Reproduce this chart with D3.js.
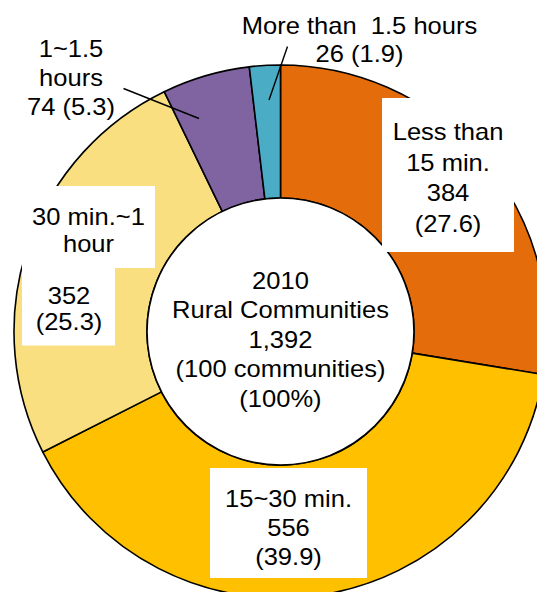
<!DOCTYPE html>
<html>
<head>
<meta charset="utf-8">
<script src="https://cdn.jsdelivr.net/npm/d3@7"></script>
<style>
  html, body { margin: 0; padding: 0; background: #ffffff; }
  svg { display: block; }
  text { font-family: "Liberation Sans", Arial, sans-serif; fill: #000; white-space: pre; }
</style>
</head>
<body>
<svg id="chart" width="537" height="592"></svg>
<script>
// ---- data ----
const categories = ["Less than 15 min.", "15~30 min.", "30 min.~1 hour", "1~1.5 hours", "More than 1.5 hours"];
const counts = [384, 556, 352, 74, 26];
const shares = [27.6, 39.9, 25.3, 5.3, 1.9];
const colors = ["#E46C0A", "#FFC000", "#F9DF80", "#8064A2", "#4BACC6"];
const centerLines = ["2010", "Rural Communities", "1,392", "(100 communities)", "(100%)"];

// ---- layout ----
const W = 537, H = 592;
const cx = 280.5, cy = 331.5, rOuter = 266.5, rInner = 133.5;
const fontSize = 23, sx = 1.11;

const svg = d3.select("#chart");
svg.append("rect").attr("width", W).attr("height", H).attr("fill", "#fff");

const pie = d3.pie().sort(null).value(d => d).startAngle(0).endAngle(2 * Math.PI);
const arcs = pie(counts);
const arcGen = d3.arc().innerRadius(rInner).outerRadius(rOuter);

const g = svg.append("g").attr("transform", `translate(${cx},${cy})`);
g.selectAll("path.slice")
  .data(arcs)
  .join("path")
  .attr("class", "slice")
  .attr("d", arcGen)
  .attr("fill", (d, i) => colors[i])
  .attr("stroke", "#000")
  .attr("stroke-width", 1.6)
  .attr("stroke-linejoin", "round");

g.append("circle").attr("r", rInner).attr("fill", "#fff").attr("stroke", "#000").attr("stroke-width", 1.6);

// label texts built from the data arrays
const fmt = d3.format(",");
const labelSpecs = [
  { i: 0, lines: ["Less than", "15 min.", String(counts[0]), `(${shares[0]})`], x: 448, y0: 140, dy: 30.5,
    boxes: [[382, 98, 132, 154]] },
  { i: 1, lines: ["15~30 min.", String(counts[1]), `(${shares[1]})`], x: 288.5, y0: 507, dy: 29.2,
    boxes: [[210, 468, 157, 110]] },
  { i: 2, lines: ["30 min.~1", "hour"], x: 88.5, y0: 225, dy: 26.7,
    boxes: [[22, 186, 133, 82], [22, 267.5, 93, 78]] },
  { i: 2, lines: [String(counts[2]), `(${shares[2]})`], x: 69, y0: 303.5, dy: 26.7, boxes: [] },
  { i: 3, lines: ["1~1.5", "hours", `${counts[3]} (${shares[3]})`], x: 71, y0: 57, dy: 29,
    boxes: [] },
  { i: 4, lines: ["More than  1.5 hours", `${counts[4]} (${shares[4]})`], x: 359.5, y0: 33.5, dy: 28.3,
    boxes: [] }
];

// leader lines
const leaders = [
  { i: 3, p: [[123.5, 88.5], [199, 118.5]] },
  { i: 4, p: [[287.5, 46.5], [269, 100]] }
];

const boxLayer = svg.append("g");
labelSpecs.forEach(s => s.boxes.forEach(b => {
  boxLayer.append("rect").attr("x", b[0]).attr("y", b[1]).attr("width", b[2]).attr("height", b[3]).attr("fill", "#fff");
}));

svg.append("g").selectAll("line")
  .data(leaders)
  .join("line")
  .attr("x1", d => d.p[0][0]).attr("y1", d => d.p[0][1])
  .attr("x2", d => d.p[1][0]).attr("y2", d => d.p[1][1])
  .attr("stroke", "#000").attr("stroke-width", 1.4);

function drawLines(parent, lines, x, y0, dy) {
  lines.forEach((t, k) => {
    parent.append("text")
      .attr("transform", `translate(${x},${y0 + k * dy}) scale(${sx},1)`)
      .attr("text-anchor", "middle")
      .attr("font-size", fontSize)
      .text(t);
  });
}

const textLayer = svg.append("g");
labelSpecs.forEach(s => drawLines(textLayer, s.lines, s.x, s.y0, s.dy));

// centre text
const totalCount = d3.sum(counts);
const centre = centerLines.slice();
centre[2] = fmt(totalCount);
drawLines(textLayer, centre, cx, 288.5, 29.6);
</script>
</body>
</html>
